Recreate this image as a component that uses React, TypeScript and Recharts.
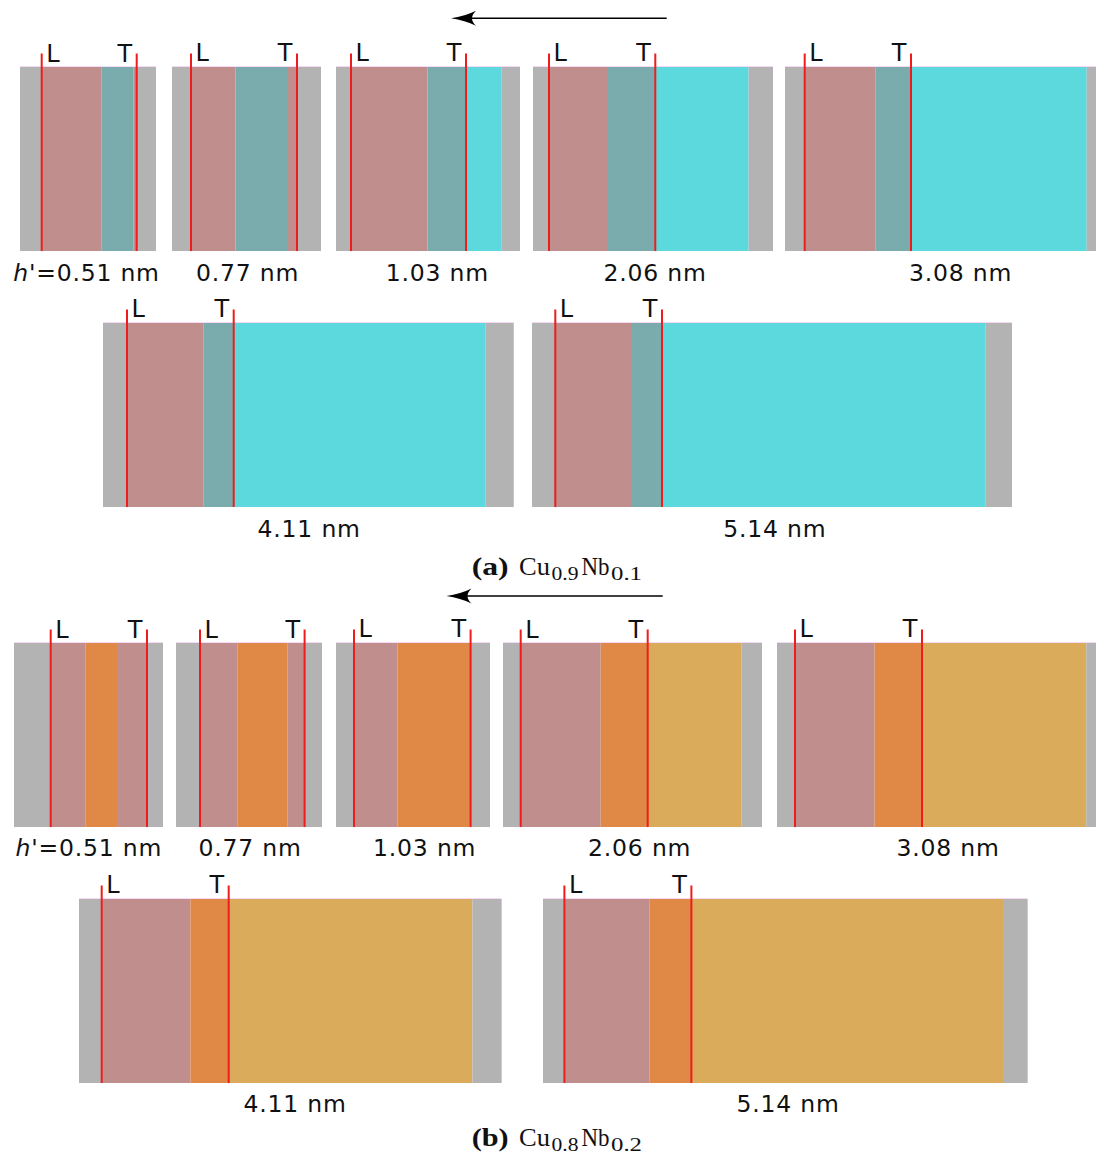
import React from "react";
import { BarChart, Bar, XAxis, YAxis, ReferenceLine, ReferenceArea } from "recharts";

// ---------- colours of the layers ----------
const LAYER_COLORS: Record<string, string> = {
  gray: "#b3b3b3",
  rose: "#c18e8e",
  teal: "#7aacae",
  cyan: "#5cd9dc",
  orange: "#e08846",
  gold: "#d9ab5a",
};

// ---------- thickness labels ----------
const THICKNESS_LABELS = ["0.51 nm", "0.77 nm", "1.03 nm", "2.06 nm", "3.08 nm", "4.11 nm", "5.14 nm"];

// ---------- (a) Cu0.9Nb0.1 : layer widths (left to right) ----------
const A1_WIDTHS = [21.7, 60, 31.6, 3.4, 19.3];
const A1_LAYERS = ["gray", "rose", "teal", "rose", "gray"];
const A2_WIDTHS = [19, 44.6, 51.4, 10, 24.3];
const A2_LAYERS = ["gray", "rose", "teal", "rose", "gray"];
const A3_WIDTHS = [15, 76.6, 38.4, 35.3, 19];
const A3_LAYERS = ["gray", "rose", "teal", "cyan", "gray"];
const A4_WIDTHS = [16, 59, 47.3, 93.3, 25];
const A4_LAYERS = ["gray", "rose", "teal", "cyan", "gray"];
const A5_WIDTHS = [19.7, 71, 35.3, 175.7, 20];
const A5_LAYERS = ["gray", "rose", "teal", "cyan", "gray"];
const A6_WIDTHS = [24, 76.7, 30, 252, 28];
const A6_LAYERS = ["gray", "rose", "teal", "cyan", "gray"];
const A7_WIDTHS = [23.3, 76.7, 30, 323.3, 27.3];
const A7_LAYERS = ["gray", "rose", "teal", "cyan", "gray"];
// index of the layer after which the T line sits
const A_T_AFTER = [3, 3, 2, 2, 2, 2, 2];

// ---------- (b) Cu0.8Nb0.2 ----------
const B1_WIDTHS = [36.7, 35, 31.3, 30, 16];
const B1_LAYERS = ["gray", "rose", "orange", "rose", "gray"];
const B2_WIDTHS = [24, 37.3, 50, 17.3, 17.4];
const B2_LAYERS = ["gray", "rose", "orange", "rose", "gray"];
const B3_WIDTHS = [18, 43.6, 73, 19.7];
const B3_LAYERS = ["gray", "rose", "orange", "gray"];
const B4_WIDTHS = [17.7, 80, 47, 94, 20.3];
const B4_LAYERS = ["gray", "rose", "orange", "gold", "gray"];
const B5_WIDTHS = [18, 79.6, 47.4, 164.3, 20];
const B5_LAYERS = ["gray", "rose", "orange", "gold", "gray"];
const B6_WIDTHS = [22.7, 88.7, 38.3, 243.7, 29];
const B6_LAYERS = ["gray", "rose", "orange", "gold", "gray"];
const B7_WIDTHS = [21.4, 85.3, 41.7, 311.6, 24.4];
const B7_LAYERS = ["gray", "rose", "orange", "gold", "gray"];
const B_T_AFTER = [3, 3, 2, 2, 2, 2, 2];

// ---------- layout (page pixels) ----------
const SANS = "'DejaVu Sans', Verdana, sans-serif";
const SERIF = "'Liberation Serif', 'DejaVu Serif', serif";
const BAR_H = 184;
const TOP_PAD = 36;
const LINE_EXT = 13.5;
const RED = "#f01c1c";

const A_POS = [
  { left: 20, top: 67, cx: 86.5 },
  { left: 171.7, top: 67, cx: 247.5 },
  { left: 335.7, top: 67, cx: 437.3 },
  { left: 532.7, top: 67, cx: 655 },
  { left: 785, top: 67, cx: 960.5 },
  { left: 103.3, top: 323.3, cx: 309.2 },
  { left: 531.7, top: 323.3, cx: 774.8 },
];
const B_POS = [
  { left: 14.3, top: 643, cx: 88.8 },
  { left: 175.7, top: 643, cx: 250 },
  { left: 335.7, top: 643, cx: 424.7 },
  { left: 503.3, top: 643, cx: 639.7 },
  { left: 776.7, top: 643, cx: 948 },
  { left: 79.3, top: 899.3, cx: 295 },
  { left: 543.3, top: 899.3, cx: 788 },
];

const A_PANELS = [
  [A1_WIDTHS, A1_LAYERS], [A2_WIDTHS, A2_LAYERS], [A3_WIDTHS, A3_LAYERS], [A4_WIDTHS, A4_LAYERS],
  [A5_WIDTHS, A5_LAYERS], [A6_WIDTHS, A6_LAYERS], [A7_WIDTHS, A7_LAYERS],
] as [number[], string[]][];
const B_PANELS = [
  [B1_WIDTHS, B1_LAYERS], [B2_WIDTHS, B2_LAYERS], [B3_WIDTHS, B3_LAYERS], [B4_WIDTHS, B4_LAYERS],
  [B5_WIDTHS, B5_LAYERS], [B6_WIDTHS, B6_LAYERS], [B7_WIDTHS, B7_LAYERS],
] as [number[], string[]][];

const sum = (arr: number[]) => arr.reduce((a, b) => a + b, 0);

function markerShape(letter: string, side: "right" | "left") {
  return (p: any) => {
    const top = Math.min(p.y1, p.y2);
    const bottom = Math.max(p.y1, p.y2);
    return (
      <g>
        <line x1={p.x1} x2={p.x2} y1={top - LINE_EXT} y2={bottom} stroke={RED} strokeWidth={2} />
        <text
          x={side === "right" ? p.x1 + 4.5 : p.x1 - 4.5}
          y={top - 5.5}
          textAnchor={side === "right" ? "start" : "end"}
          fontFamily={SANS}
          fontSize={24}
          fill="#111"
        >
          {letter}
        </text>
      </g>
    );
  };
}

function Panel({ widths, layers, tAfter, left, top }: { widths: number[]; layers: string[]; tAfter: number; left: number; top: number }) {
  const total = sum(widths);
  const row: Record<string, any> = { name: "stack" };
  widths.forEach((w, i) => (row[`s${i}`] = w));
  const lPos = widths[0];
  const tPos = sum(widths.slice(0, tAfter + 1));
  return (
    <div style={{ position: "absolute", left, top: top - TOP_PAD }}>
      <BarChart
        layout="vertical"
        width={total}
        height={BAR_H + TOP_PAD}
        data={[row]}
        margin={{ top: TOP_PAD, right: 0, bottom: 0, left: 0 }}
        barCategoryGap={0}
        barGap={0}
        style={{ overflow: "visible" }}
      >
        <XAxis type="number" hide domain={[0, total]} allowDataOverflow />
        <YAxis type="category" dataKey="name" hide />
        {widths.map((_, i) => (
          <Bar key={i} dataKey={`s${i}`} stackId="s" fill={LAYER_COLORS[layers[i]]} isAnimationActive={false} />
        ))}
        <ReferenceArea x1={0} x2={total} fill="none" fillOpacity={0} stroke="#efb4ef" strokeWidth={1} />
        <ReferenceLine x={lPos} shape={markerShape("L", "right")} />
        <ReferenceLine x={tPos} shape={markerShape("T", "left")} />
      </BarChart>
    </div>
  );
}

function ThicknessLabel({ idx, cx, y }: { idx: number; cx: number; y: number }) {
  return (
    <text x={cx} y={y} textAnchor="middle" fontFamily={SANS} fontSize={23.5} letterSpacing={0.8} fill="#111">
      {idx === 0 ? (
        <>
          <tspan fontStyle="italic">h</tspan>
          {"'=" + THICKNESS_LABELS[idx]}
        </>
      ) : (
        THICKNESS_LABELS[idx]
      )}
    </text>
  );
}

function Arrow({ x1, x2, y }: { x1: number; x2: number; y: number }) {
  // arrow pointing left from x1 to x2 (x2 < x1)
  return (
    <g>
      <line x1={x1} x2={x2 + 12} y1={y} y2={y} stroke="#000" strokeWidth={1.6} />
      <path
        d={`M ${x2} ${y} Q ${x2 + 14} ${y - 2} ${x2 + 25} ${y - 7.5} Q ${x2 + 17} ${y} ${x2 + 25} ${y + 7.5} Q ${x2 + 14} ${y + 2} ${x2} ${y} Z`}
        fill="#000"
      />
    </g>
  );
}

function Caption({ letter, y, c1, c2 }: { letter: string; y: number; c1: string; c2: string }) {
  const common = { fontFamily: SERIF, fill: "#111", lengthAdjust: "spacingAndGlyphs" as const };
  return (
    <g>
      <text x={471.7} y={y} fontSize={26} fontWeight="bold" textLength={37} {...common}>({letter})</text>
      <text x={519} y={y} fontSize={26} textLength={31} {...common}>Cu</text>
      <text x={551.5} y={y + 5} fontSize={19} textLength={27} {...common}>{c1}</text>
      <text x={581.5} y={y} fontSize={26} textLength={28} {...common}>Nb</text>
      <text x={611} y={y + 5} fontSize={19} textLength={31} {...common}>{c2}</text>
    </g>
  );
}

export default function App() {
  return (
    <div style={{ position: "absolute", left: 0, top: 0, width: 1096, height: 1157, overflow: "hidden", background: "#fff" }}>
      {A_PANELS.map(([w, l], i) => (
        <Panel key={"a" + i} widths={w} layers={l} tAfter={A_T_AFTER[i]} left={A_POS[i].left} top={A_POS[i].top} />
      ))}
      {B_PANELS.map(([w, l], i) => (
        <Panel key={"b" + i} widths={w} layers={l} tAfter={B_T_AFTER[i]} left={B_POS[i].left} top={B_POS[i].top} />
      ))}
      <svg width={1096} height={1157} style={{ position: "absolute", left: 0, top: 0, pointerEvents: "none" }}>
        <Arrow x1={666.7} x2={451} y={18.3} />
        <Arrow x1={662.7} x2={446.5} y={596} />
        {A_POS.map((p, i) => (
          <ThicknessLabel key={"la" + i} idx={i} cx={p.cx} y={p.top + BAR_H + 29.5} />
        ))}
        {B_POS.map((p, i) => (
          <ThicknessLabel key={"lb" + i} idx={i} cx={p.cx} y={p.top + BAR_H + 29} />
        ))}
        <Caption letter="a" y={575} c1="0.9" c2="0.1" />
        <Caption letter="b" y={1145.5} c1="0.8" c2="0.2" />
      </svg>
    </div>
  );
}
